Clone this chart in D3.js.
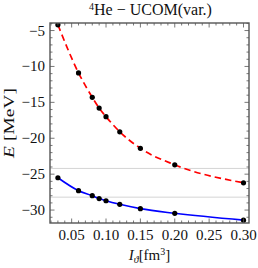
<!DOCTYPE html>
<html>
<head>
<meta charset="utf-8">
<script src="https://cdn.jsdelivr.net/npm/d3@7"></script>
<style>
  body { margin: 0; background: #fff; }
  text { font-family: "Liberation Serif", "DejaVu Serif", serif; fill: #111; }
</style>
</head>
<body>
<div id="chart"></div>
<script>
// values
var volume = [0.03, 0.06, 0.08, 0.09, 0.10, 0.12, 0.15, 0.20, 0.30];
var eRed = [-4.2, -10.9, -14.3, -15.8, -17.0, -19.1, -21.4, -23.7, -26.2];
var eBlue = [-25.5, -27.3, -28.0, -28.4, -28.7, -29.2, -29.8, -30.45, -31.4];
var refLines = [-24.2, -28.2];
var xTicks = [0.05, 0.10, 0.15, 0.20, 0.25, 0.30];
var yTicks = [-5, -10, -15, -20, -25, -30];

var W = 258, H = 268;
var margin = { top: 23, right: 9, bottom: 45, left: 50 };
var width = W - margin.left - margin.right,
    height = H - margin.top - margin.bottom;

var svg = d3.select("#chart").append("svg")
    .attr("width", W)
    .attr("height", H);

var g = svg.append("g")
    .attr("transform", "translate(" + margin.left + "," + margin.top + ")");

var x = d3.scaleLinear().domain([0.0185, 0.308]).range([0, width]);
var y = d3.scaleLinear().domain([-31.8, -3.95]).range([height, 0]);

g.append("clipPath").attr("id", "clip")
    .append("rect").attr("width", width).attr("height", height);

var plot = g.append("g").attr("clip-path", "url(#clip)");

plot.selectAll(".ref")
    .data(refLines).enter()
    .append("line")
    .attr("x1", 0).attr("x2", width)
    .attr("y1", d => y(d)).attr("y2", d => y(d))
    .attr("stroke", "#c8c8c8")
    .attr("stroke-width", 0.8);

var line = d3.line()
    .x(d => x(d[0]))
    .y(d => y(d[1]))
    .curve(d3.curveMonotoneX);

var red = d3.zip(volume, eRed),
    blue = d3.zip(volume, eBlue);

plot.append("path")
    .attr("d", line(blue))
    .attr("fill", "none")
    .attr("stroke", "#0000ff")
    .attr("stroke-width", 1.6);

plot.append("path")
    .attr("d", line(red))
    .attr("fill", "none")
    .attr("stroke", "#ff0000")
    .attr("stroke-width", 1.7)
    .attr("stroke-dasharray", "6.5,4");

plot.selectAll(".pt")
    .data(red.concat(blue)).enter()
    .append("circle")
    .attr("cx", d => x(d[0]))
    .attr("cy", d => y(d[1]))
    .attr("r", 2.6)
    .attr("fill", "#000");

// frame with ticks on all sides
var frameCol = "#555";
var xMinor = d3.range(2, 31).map(d => d / 100).filter(d => d * 100 % 5 !== 0);
var yMinor = d3.range(-31, -3).filter(d => d % 5 !== 0);

var tg = g.append("g");
[[xTicks, 4.5], [xMinor, 2.5]].forEach(function (p) {
    tg.selectAll(null).data(p[0]).enter().append("line")
        .attr("x1", d => x(d)).attr("x2", d => x(d))
        .attr("y1", height).attr("y2", height - p[1])
        .attr("stroke", frameCol).attr("stroke-width", 0.8);
    tg.selectAll(null).data(p[0]).enter().append("line")
        .attr("x1", d => x(d)).attr("x2", d => x(d))
        .attr("y1", 0).attr("y2", p[1])
        .attr("stroke", frameCol).attr("stroke-width", 0.8);
});
[[yTicks, 4.5], [yMinor, 2.5]].forEach(function (p) {
    tg.selectAll(null).data(p[0]).enter().append("line")
        .attr("y1", d => y(d)).attr("y2", d => y(d))
        .attr("x1", 0).attr("x2", p[1])
        .attr("stroke", frameCol).attr("stroke-width", 0.8);
    tg.selectAll(null).data(p[0]).enter().append("line")
        .attr("y1", d => y(d)).attr("y2", d => y(d))
        .attr("x1", width).attr("x2", width - p[1])
        .attr("stroke", frameCol).attr("stroke-width", 0.8);
});

g.append("rect")
    .attr("width", width).attr("height", height)
    .attr("fill", "none")
    .attr("stroke", frameCol)
    .attr("stroke-width", 1.4);

// tick labels
g.selectAll(".xl").data(xTicks).enter().append("text")
    .attr("x", d => x(d))
    .attr("y", height + 17)
    .attr("text-anchor", "middle")
    .attr("font-size", 15)
    .text(d => d.toFixed(2));

g.selectAll(".yl").data(yTicks).enter().append("text")
    .attr("x", -5)
    .attr("y", d => y(d) + 5)
    .attr("text-anchor", "end")
    .attr("font-size", 15)
    .text(d => "\u2212" + Math.abs(d));

// title
var title = svg.append("text")
    .attr("x", margin.left + width / 2 + 1)
    .attr("y", 15)
    .attr("text-anchor", "middle")
    .attr("font-size", 16);
title.append("tspan").attr("font-size", 10).attr("dy", -5).text("4");
title.append("tspan").attr("dy", 5).text("He \u2212 UCOM(var.)");

// x axis title
var xt = svg.append("text")
    .attr("x", margin.left + width / 2)
    .attr("y", 260)
    .attr("text-anchor", "middle")
    .attr("font-size", 15);
xt.append("tspan").attr("font-style", "italic").text("I");
xt.append("tspan").attr("font-style", "italic").attr("font-size", 10).attr("dy", 3).text("\u03D1");
xt.append("tspan").attr("dy", -3).text("[fm");
xt.append("tspan").attr("font-size", 10).attr("dy", -5).text("3");
xt.append("tspan").attr("dy", 5).text("]");

// y axis title
var yt = svg.append("text")
    .attr("transform", "translate(14," + (margin.top + height / 2) + ") rotate(-90) scale(1.3,1)")
    .attr("text-anchor", "middle")
    .attr("font-size", 15);
yt.append("tspan").attr("font-style", "italic").text("E");
yt.append("tspan").text(" [MeV]");
</script>
</body>
</html>
